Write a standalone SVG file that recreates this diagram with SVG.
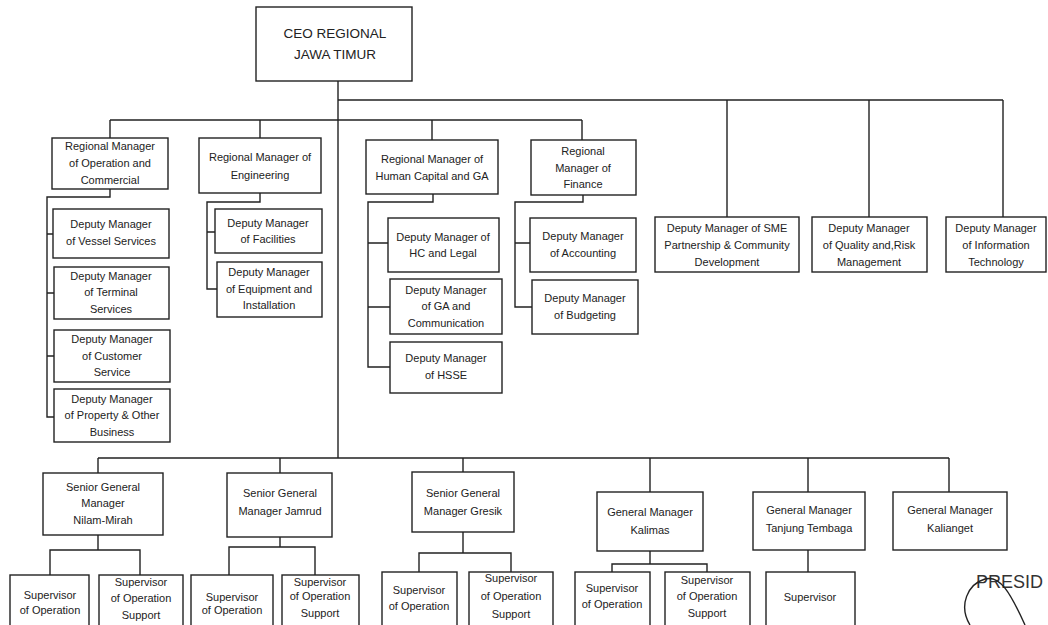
<svg xmlns="http://www.w3.org/2000/svg" width="1048" height="625" viewBox="0 0 1048 625">
<style>
.b{fill:#fff;stroke:#222;stroke-width:1.4}
.c{fill:none;stroke:#222;stroke-width:1.4}
text{font-family:"Liberation Sans",Arial,sans-serif;font-size:11px;fill:#222;text-anchor:middle}
.ceo{font-size:13.5px}
.pres{font-size:18px;text-anchor:start;fill:#333}
</style>
<rect width="1048" height="625" fill="#fff"/>
<g id="connectors" class="c">
<path d="M338,81V458M338,100H1003M727,100V217M869,100V217M1003,100V217"/>
<path d="M110,120H582M110,120V138M260,120V138M432,120V140M582,120V140"/>
<path d="M110,189V197H47V417H54M47,234H53M47,293H54M47,356H54"/>
<path d="M260,193V202H207V289H217M207,232H215"/>
<path d="M433,194V202H368V367H390M368,243H388M368,307H390"/>
<path d="M583,195V202H515V307H532M515,243H530"/>
<path d="M98,458H949M98,458V473M280,458V473M463,458V472M650,458V492M808,458V492M949,458V492"/>
<path d="M98,535V550M50,575V550H140V575"/>
<path d="M280,537V547M229,575V547H315V575"/>
<path d="M463,532V553M419,572V553H511V572"/>
<path d="M650,551V564M612,572V564H707V572"/>
<path d="M808,550V572"/>
</g>
<g id="ceo"><rect class="b" x="256" y="7" width="156" height="74"/><text class="ceo" x="335" y="38">CEO REGIONAL</text><text class="ceo" x="335" y="59">JAWA TIMUR</text></g>
<g id="rm-ops"><rect class="b" x="52" y="138" width="116" height="51"/><text x="110" y="150">Regional Manager</text><text x="110" y="167">of Operation and</text><text x="110" y="184">Commercial</text></g>
<g id="rm-eng"><rect class="b" x="199" y="138" width="122" height="55"/><text x="260" y="161">Regional Manager of</text><text x="260" y="179">Engineering</text></g>
<g id="rm-hc"><rect class="b" x="366" y="140" width="132" height="54"/><text x="432" y="163">Regional Manager of</text><text x="432" y="180">Human Capital and GA</text></g>
<g id="rm-fin"><rect class="b" x="531" y="140" width="105" height="55"/><text x="583" y="155">Regional</text><text x="583" y="172">Manager  of</text><text x="583" y="188">Finance</text></g>
<g id="dm-vessel"><rect class="b" x="53" y="209" width="116" height="49"/><text x="111" y="228">Deputy Manager</text><text x="111" y="245">of Vessel Services</text></g>
<g id="dm-terminal"><rect class="b" x="54" y="267" width="115" height="52"/><text x="111" y="280">Deputy Manager</text><text x="111" y="296">of Terminal</text><text x="111" y="313">Services</text></g>
<g id="dm-customer"><rect class="b" x="54" y="330" width="116" height="52"/><text x="112" y="343">Deputy Manager</text><text x="112" y="360">of Customer</text><text x="112" y="376">Service</text></g>
<g id="dm-property"><rect class="b" x="54" y="389" width="116" height="53"/><text x="112" y="403">Deputy Manager</text><text x="112" y="419">of Property &amp; Other</text><text x="112" y="436">Business</text></g>
<g id="dm-facilities"><rect class="b" x="215" y="209" width="107" height="44"/><text x="268" y="227">Deputy Manager</text><text x="268" y="243">of Facilities</text></g>
<g id="dm-equipment"><rect class="b" x="217" y="262" width="105" height="55"/><text x="269" y="276">Deputy Manager</text><text x="269" y="293">of Equipment and</text><text x="269" y="309">Installation</text></g>
<g id="dm-hc"><rect class="b" x="388" y="218" width="111" height="54"/><text x="443" y="241">Deputy Manager of</text><text x="443" y="257">HC and Legal</text></g>
<g id="dm-ga"><rect class="b" x="390" y="279" width="112" height="55"/><text x="446" y="294">Deputy Manager</text><text x="446" y="310">of GA and</text><text x="446" y="327">Communication</text></g>
<g id="dm-hsse"><rect class="b" x="390" y="342" width="112" height="51"/><text x="446" y="362">Deputy Manager</text><text x="446" y="379">of HSSE</text></g>
<g id="dm-accounting"><rect class="b" x="530" y="218" width="106" height="54"/><text x="583" y="240">Deputy Manager</text><text x="583" y="257">of Accounting</text></g>
<g id="dm-budgeting"><rect class="b" x="532" y="280" width="106" height="54"/><text x="585" y="302">Deputy Manager</text><text x="585" y="319">of Budgeting</text></g>
<g id="dm-sme"><rect class="b" x="655" y="217" width="144" height="55"/><text x="727" y="232">Deputy Manager of SME</text><text x="727" y="249">Partnership &amp; Community</text><text x="727" y="266">Development</text></g>
<g id="dm-quality"><rect class="b" x="812" y="217" width="115" height="55"/><text x="869" y="232">Deputy Manager</text><text x="869" y="249">of Quality and,Risk</text><text x="869" y="266">Management</text></g>
<g id="dm-it"><rect class="b" x="946" y="217" width="100" height="55"/><text x="996" y="232">Deputy Manager</text><text x="996" y="249">of Information</text><text x="996" y="266">Technology</text></g>
<g id="sgm-nilam"><rect class="b" x="43" y="473" width="120" height="62"/><text x="103" y="491">Senior General</text><text x="103" y="507">Manager</text><text x="103" y="524">Nilam-Mirah</text></g>
<g id="sgm-jamrud"><rect class="b" x="227" y="473" width="105" height="64"/><text x="280" y="497">Senior General</text><text x="280" y="515">Manager  Jamrud</text></g>
<g id="sgm-gresik"><rect class="b" x="412" y="472" width="102" height="60"/><text x="463" y="497">Senior General</text><text x="463" y="515">Manager Gresik</text></g>
<g id="gm-kalimas"><rect class="b" x="597" y="492" width="106" height="59"/><text x="650" y="516">General Manager</text><text x="650" y="534">Kalimas</text></g>
<g id="gm-tanjung"><rect class="b" x="753" y="492" width="112" height="58"/><text x="809" y="514">General Manager</text><text x="809" y="532">Tanjung Tembaga</text></g>
<g id="gm-kalianget"><rect class="b" x="893" y="492" width="114" height="58"/><text x="950" y="514">General Manager</text><text x="950" y="532">Kalianget</text></g>
<g id="sup-nilam-op"><rect class="b" x="10" y="575" width="79" height="60"/><text x="50" y="599">Supervisor</text><text x="50" y="614">of Operation</text></g>
<g id="sup-nilam-sup"><rect class="b" x="99" y="575" width="84" height="60"/><text x="141" y="586">Supervisor</text><text x="141" y="602">of Operation</text><text x="141" y="619">Support</text></g>
<g id="sup-jamrud-op"><rect class="b" x="191" y="575" width="82" height="60"/><text x="232" y="601">Supervisor</text><text x="232" y="614">of Operation</text></g>
<g id="sup-jamrud-sup"><rect class="b" x="282" y="575" width="77" height="60"/><text x="320" y="586">Supervisor</text><text x="320" y="600">of Operation</text><text x="320" y="617">Support</text></g>
<g id="sup-gresik-op"><rect class="b" x="382" y="572" width="75" height="60"/><text x="419" y="594">Supervisor</text><text x="419" y="610">of Operation</text></g>
<g id="sup-gresik-sup"><rect class="b" x="469" y="572" width="84" height="60"/><text x="511" y="582">Supervisor</text><text x="511" y="600">of Operation</text><text x="511" y="618">Support</text></g>
<g id="sup-kalimas-op"><rect class="b" x="575" y="572" width="75" height="60"/><text x="612" y="592">Supervisor</text><text x="612" y="608">of Operation</text></g>
<g id="sup-kalimas-sup"><rect class="b" x="665" y="572" width="85" height="60"/><text x="707" y="584">Supervisor</text><text x="707" y="600">of Operation</text><text x="707" y="617">Support</text></g>
<g id="sup-tanjung"><rect class="b" x="766" y="572" width="89" height="60"/><text x="810" y="601">Supervisor</text></g>
<g id="stamp"><text class="pres" x="976" y="588">PRESID</text><path class="c" d="M970,625C958,605 968,584 985,579C1000,575 1010,592 1025,625"/></g>
</svg>
